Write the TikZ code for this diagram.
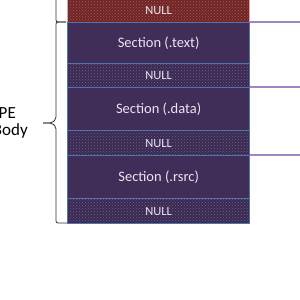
\documentclass[tikz,border=0pt]{standalone}
\usepackage{fontspec}
\setmainfont{Carlito}
\usetikzlibrary{patterns}
\definecolor{secfill}{RGB}{64,45,88}
\definecolor{nullbase}{RGB}{58,42,82}
\definecolor{nulldot}{RGB}{110,95,140}
\definecolor{secedge}{RGB}{78,118,170}
\definecolor{redbase}{RGB}{112,38,38}
\definecolor{reddot}{RGB}{165,85,85}
\definecolor{rededge}{RGB}{232,160,160}
\definecolor{linkcol}{RGB}{160,135,195}
\definecolor{txtcol}{RGB}{235,228,242}
\definecolor{bracecol}{RGB}{50,50,50}
\tikzset{
  secbox/.style={draw=secedge, line width=1.3pt, fill=secfill, minimum width=182pt,
    inner sep=0pt, anchor=north west, text=txtcol, font=\fontsize{14.5}{16}\selectfont},
  nullbox/.style={draw=secedge, line width=1.3pt, preaction={fill=nullbase},
    pattern=crosshatch dots, pattern color=nulldot, minimum width=182pt,
    inner sep=0pt, anchor=north west, text=txtcol, font=\fontsize{12.5}{14}\selectfont},
  redbox/.style={draw=rededge, line width=1.3pt, preaction={fill=redbase},
    pattern=crosshatch dots, pattern color=reddot, minimum width=182pt,
    inner sep=0pt, anchor=north west, text=txtcol, font=\fontsize{12.5}{14}\selectfont},
  link/.style={draw=linkcol, line width=1.6pt},
  bracket/.style={draw=bracecol, line width=0.8pt, rounded corners=2pt},
  lbl/.style={font=\fontsize{17}{19}\selectfont, text=black, inner sep=0pt}
}
\begin{document}
\begin{tikzpicture}[x=1pt,y=-1pt]
\useasboundingbox (0,0) rectangle (300,300);
\fill[white] (0,0) rectangle (300,300);
% boxes
\node[redbox, minimum height=24pt] (rnull) at (67,-2) {NULL};
\node[secbox, minimum height=41pt] (stext) at (67,22) {Section (.text)};
\node[nullbox, minimum height=24pt] (n1) at (67,63) {NULL};
\node[secbox, minimum height=43pt] (sdata) at (67,87) {Section (.data)};
\node[nullbox, minimum height=25pt] (n2) at (67,130) {NULL};
\node[secbox, minimum height=43pt] (srsrc) at (67,155) {Section (.rsrc)};
\node[nullbox, minimum height=25pt] (n3) at (67,198) {NULL};
% right links
\coordinate (r1) at (300,22);
\coordinate (r2) at (300,87);
\coordinate (r3) at (300,155);
\draw[link] (stext.north east) -- (r1);
\draw[link] (sdata.north east) -- (r2);
\draw[link] (srsrc.north east) -- (r3);
% brackets
\coordinate (b0) at (56,0);
\coordinate (b1) at (66,22);
\coordinate (b2) at (67,223);
\coordinate (tip) at (43,123);
\draw[bracket] (b0) -- (56,22) -- (b1);
\draw[bracket] (b1) -- (56,22) -- (56,119) -- (52,123) -- (tip);
\draw[bracket] (tip) -- (52,123) -- (56,127) -- (56,223) -- (b2);
% label
\node[lbl, anchor=east] (pe) at (16,113) {PE};
\node[lbl, anchor=east] (body) at (28,131) {Body};
\end{tikzpicture}
\end{document}
